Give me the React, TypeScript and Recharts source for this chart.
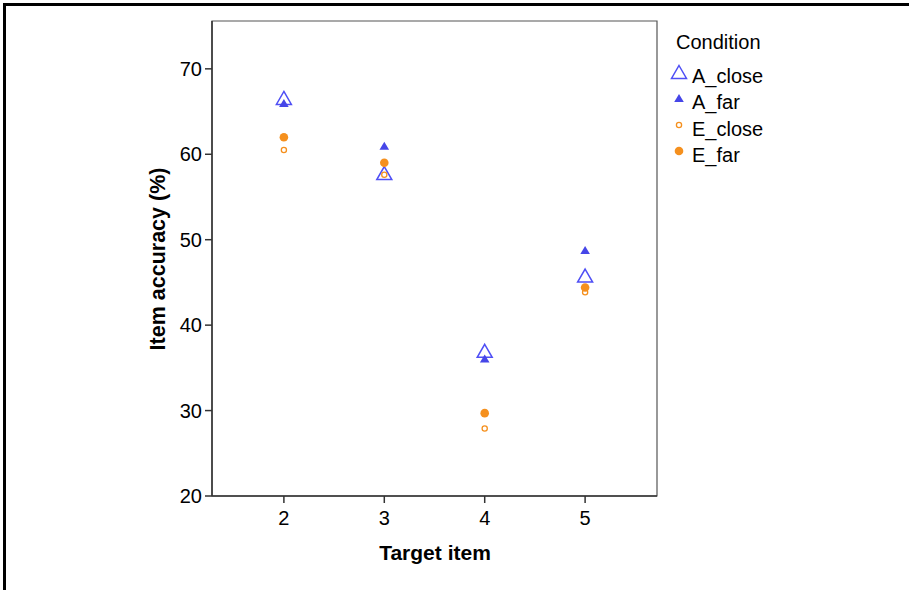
import { ReferenceArea, Scatter, ScatterChart, XAxis, YAxis } from "recharts";

// target items on the x axis, accuracy (%) per condition
const targetItems = [2, 3, 4, 5];
const aClose = [66.6, 57.8, 37.0, 45.8];
const aFar = [66.0, 61.0, 36.1, 48.8];
const eClose = [60.5, 57.6, 27.9, 43.85];
const eFar = [62.0, 59.0, 29.7, 44.4];
const yTicks = [20, 30, 40, 50, 60, 70];
const xDomain: [number, number] = [1.284, 5.716];
const yDomain: [number, number] = [20, 75.6];

const BLUE = "#4f4ff5";
const BLUE_FILL = "#4646e8";
const ORANGE = "#f5901e";
const FONT = "'Liberation Sans', Arial, sans-serif";

const toPoints = (values: number[]) => targetItems.map((x, i) => ({ x, y: values[i] }));

function HollowTriangle({ cx, cy }: any) {
  return <path d={`M${cx},${cy - 6.5} L${cx + 7.5},${cy + 6.5} L${cx - 7.5},${cy + 6.5} Z`} fill="none" stroke={BLUE} strokeWidth={1.5} />;
}

function FilledTriangle({ cx, cy }: any) {
  return <path d={`M${cx},${cy - 4} L${cx + 4.8},${cy + 4} L${cx - 4.8},${cy + 4} Z`} fill={BLUE_FILL} />;
}

function HollowDot({ cx, cy }: any) {
  return <circle cx={cx} cy={cy} r={2.6} fill="none" stroke={ORANGE} strokeWidth={1.3} />;
}

function FilledDot({ cx, cy }: any) {
  return <circle cx={cx} cy={cy} r={4.3} fill={ORANGE} />;
}

const legendItems = [
  { label: "A_close", Shape: HollowTriangle, y: 76 },
  { label: "A_far", Shape: FilledTriangle, y: 102 },
  { label: "E_close", Shape: HollowDot, y: 129 },
  { label: "E_far", Shape: FilledDot, y: 155 },
];

const tickStyle = { fill: "#000", fontSize: 20, fontFamily: FONT };

export default function App() {
  return (
    <div style={{ position: "absolute", left: 0, top: 0, width: 909, height: 590, background: "#fff", fontFamily: FONT }}>
      <ScatterChart width={909} height={590} margin={{ top: 21, right: 252, bottom: 54, left: 152 }}>
        <XAxis
          type="number"
          dataKey="x"
          domain={xDomain}
          ticks={targetItems}
          allowDataOverflow
          height={40}
          tickSize={7}
          tickMargin={8}
          axisLine={{ stroke: "#333", strokeWidth: 1.5 }}
          tickLine={{ stroke: "#333", strokeWidth: 1.5 }}
          tick={tickStyle}
        />
        <YAxis
          type="number"
          dataKey="y"
          domain={yDomain}
          ticks={yTicks}
          allowDataOverflow
          width={60}
          tickSize={7}
          tickMargin={3}
          axisLine={{ stroke: "#333", strokeWidth: 1.5 }}
          tickLine={{ stroke: "#333", strokeWidth: 1.5 }}
          tick={tickStyle}
        />
        <ReferenceArea x1={xDomain[0]} x2={xDomain[1]} y1={yDomain[0]} y2={yDomain[1]} fill="none" stroke="#555" strokeWidth={1.2} ifOverflow="visible" />
        <Scatter name="A_close" data={toPoints(aClose)} shape={<HollowTriangle />} isAnimationActive={false} />
        <Scatter name="A_far" data={toPoints(aFar)} shape={<FilledTriangle />} isAnimationActive={false} />
        <Scatter name="E_close" data={toPoints(eClose)} shape={<HollowDot />} isAnimationActive={false} />
        <Scatter name="E_far" data={toPoints(eFar)} shape={<FilledDot />} isAnimationActive={false} />
      </ScatterChart>
      <svg width={909} height={590} style={{ position: "absolute", left: 0, top: 0, pointerEvents: "none" }}>
        <line x1={4.5} y1={3} x2={4.5} y2={590} stroke="#000" strokeWidth={3} />
        <line x1={3} y1={4.5} x2={909} y2={4.5} stroke="#000" strokeWidth={3} />
        <text x={435} y={560} textAnchor="middle" fontSize={21} fontWeight="bold" fontFamily={FONT} fill="#000">Target item</text>
        <text x={0} y={0} transform="translate(165,259) rotate(-90)" textAnchor="middle" fontSize={21.5} fontWeight="bold" fontFamily={FONT} fill="#000">Item accuracy (%)</text>
        <text x={676} y={49} fontSize={20} fontFamily={FONT} fill="#000">Condition</text>
        {legendItems.map(({ label, Shape, y }) => (
          <g key={label}>
            <Shape cx={679} cy={y - 4} />
            <text x={692} y={y + 7} fontSize={20} fontFamily={FONT} fill="#000">{label}</text>
          </g>
        ))}
      </svg>
    </div>
  );
}
